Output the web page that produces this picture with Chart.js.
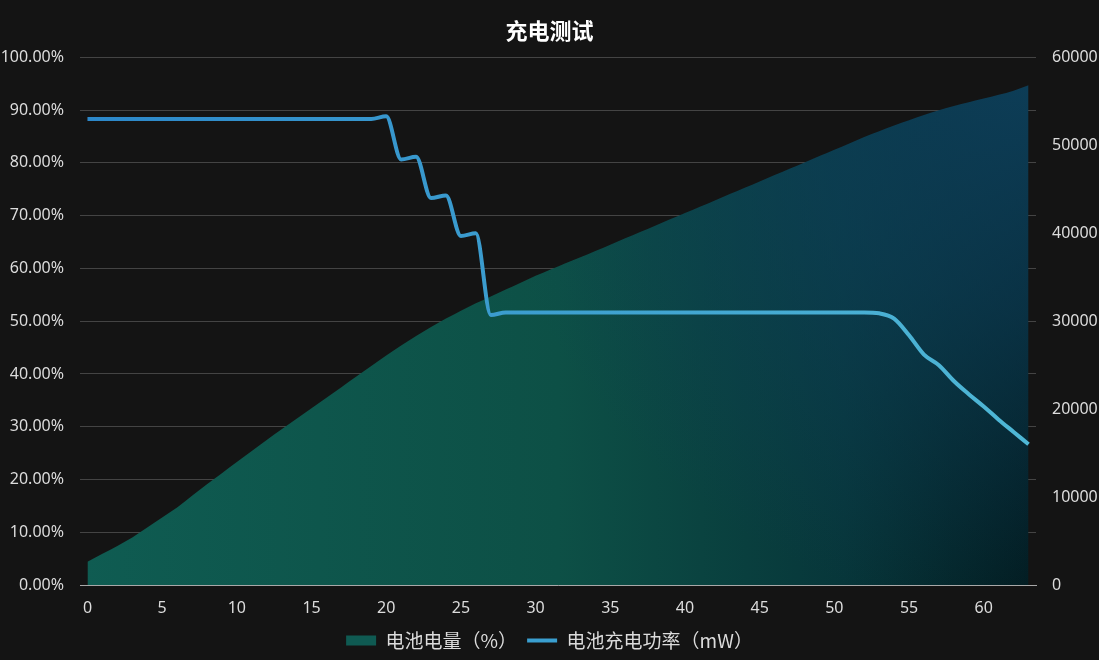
<!DOCTYPE html>
<html lang="zh-CN">
<head>
<meta charset="UTF-8">
<title>充电测试</title>
<script src="https://cdn.jsdelivr.net/npm/chart.js"></script>
<style>
    html, body { margin: 0; padding: 0; background: #141414; }
    #wrap { width: 1099px; height: 660px; }
</style>
</head>
<body>
<div id="wrap"><canvas id="chart"></canvas></div>
<script>
// 数据
const minutes = Array.from({ length: 64 }, (_, i) => String(i));
const batteryPct = [
    4.4, 5.9, 7.4, 9.0, 10.9, 12.8, 14.7, 16.9, 19.1, 21.2,
    23.3, 25.4, 27.5, 29.5, 31.5, 33.5, 35.5, 37.5, 39.5, 41.5,
    43.5, 45.4, 47.2, 48.9, 50.5, 52.0, 53.4, 54.7, 56.0, 57.3,
    58.6, 59.8, 61.0, 62.1, 63.3, 64.5, 65.7, 66.9, 68.1, 69.3,
    70.5, 71.7, 72.9, 74.1, 75.3, 76.5, 77.7, 78.9, 80.1, 81.3,
    82.5, 83.7, 84.9, 86.0, 87.1, 88.1, 89.1, 90.0, 90.8, 91.5,
    92.2, 92.9, 93.7, 94.7
];
const chargePower = [
    53000, 53000, 53000, 53000, 53000, 53000, 53000, 53000, 53000, 53000,
    53000, 53000, 53000, 53000, 53000, 53000, 53000, 53000, 53000, 53000,
    53300, 48400, 48700, 44000, 44300, 39700, 40000, 30700, 31000, 31000,
    31000, 31000, 31000, 31000, 31000, 31000, 31000, 31000, 31000, 31000,
    31000, 31000, 31000, 31000, 31000, 31000, 31000, 31000, 31000, 31000,
    31000, 31000, 31000, 30900, 30300, 28400, 26200, 25000, 23200, 21700,
    20300, 18800, 17400, 16000
];
const pctTicks = [0, 10, 20, 30, 40, 50, 60, 70, 80, 90, 100];

const textColor = '#dcdcdc';
const fontFamily = '"Noto Sans", "Noto Sans CJK SC", sans-serif';

// 面积填充：左侧青绿，右上偏蓝，右下近黑
let areaPattern = null;
function areaFill(context) {
    const chart = context.chart;
    const area = chart.chartArea;
    if (!area) return '#0f5c52';
    if (areaPattern) return areaPattern;
    const off = document.createElement('canvas');
    off.width = chart.width;
    off.height = chart.height;
    const c = off.getContext('2d');
    const g = c.createLinearGradient(area.left, 0, area.right, 0);
    g.addColorStop(0, '#0f5c52');
    g.addColorStop(0.5, '#0d5046');
    g.addColorStop(0.8, '#07363a');
    g.addColorStop(1, '#021a1e');
    c.fillStyle = g;
    c.fillRect(0, 0, off.width, off.height);
    const r = c.createRadialGradient(area.right, area.top, 0, area.right, area.top, 560);
    r.addColorStop(0, 'rgba(14, 64, 92, 0.95)');
    r.addColorStop(0.45, 'rgba(14, 64, 92, 0.6)');
    r.addColorStop(1, 'rgba(14, 64, 92, 0)');
    c.fillStyle = r;
    c.fillRect(0, 0, off.width, off.height);
    areaPattern = chart.ctx.createPattern(off, 'no-repeat');
    return areaPattern;
}

function lineColor(context) {
    const area = context.chart.chartArea;
    if (!area) return '#3a9fd0';
    const g = context.chart.ctx.createLinearGradient(area.left, 0, area.right, 0);
    g.addColorStop(0, '#2c87c9');
    g.addColorStop(1, '#4fb8d6');
    return g;
}

Chart.defaults.font.family = fontFamily;
Chart.defaults.color = textColor;

new Chart(document.getElementById('chart'), {
    type: 'line',
    data: {
        labels: minutes,
        datasets: [
            {
                label: '电池电量（%）',
                data: batteryPct,
                yAxisID: 'yPct',
                fill: 'origin',
                backgroundColor: areaFill,
                borderWidth: 0,
                pointRadius: 0,
                cubicInterpolationMode: 'monotone',
                order: 1
            },
            {
                label: '电池充电功率（mW）',
                data: chargePower,
                yAxisID: 'yPow',
                fill: false,
                borderColor: lineColor,
                backgroundColor: '#3a9fd0',
                borderWidth: 4,
                pointRadius: 0,
                cubicInterpolationMode: 'monotone',
                order: 0
            }
        ]
    },
    options: {
        responsive: true,
        maintainAspectRatio: false,
        animation: false,
        layout: { padding: 0 },
        plugins: {
            title: {
                display: true,
                text: '充电测试',
                color: '#ffffff',
                font: { size: 22, weight: 'bold', family: '"Noto Sans CJK SC", sans-serif' },
                padding: { top: 17, bottom: 14 }
            },
            legend: {
                position: 'bottom',
                labels: {
                    color: textColor,
                    font: { size: 19, family: '"Noto Sans CJK SC", "Noto Sans", sans-serif' },
                    usePointStyle: true,
                    pointStyleWidth: 30,
                    boxHeight: 10,
                    padding: 10,
                    sort: (a, b) => a.datasetIndex - b.datasetIndex,
                    generateLabels(chart) {
                        const items = Chart.defaults.plugins.legend.labels.generateLabels(chart);
                        items.forEach(it => {
                            if (it.datasetIndex === 0) {
                                it.pointStyle = 'rect';
                                it.fillStyle = '#0f5a52';
                                it.strokeStyle = '#0f5a52';
                                it.lineWidth = 0;
                            } else {
                                it.pointStyle = 'line';
                                it.strokeStyle = '#3a9fd0';
                                it.lineWidth = 4;
                            }
                        });
                        return items;
                    }
                }
            },
            tooltip: { enabled: false }
        },
        scales: {
            x: {
                offset: true,
                grid: { display: false, drawTicks: false },
                border: { display: true, color: '#a8a8a8', width: 1 },
                ticks: {
                    autoSkip: false,
                    maxRotation: 0,
                    padding: 14,
                    font: { size: 16 },
                    color: textColor,
                    callback(value) {
                        const lab = this.getLabelForValue(value);
                        return Number(lab) % 5 === 0 ? lab : null;
                    }
                },
                afterFit(scale) { scale.height = 36; }
            },
            yPct: {
                position: 'left',
                min: 0,
                max: 100,
                afterBuildTicks(scale) { scale.ticks = pctTicks.map(v => ({ value: v })); },
                grid: { color: '#444444', drawTicks: false, lineWidth: 1 },
                border: { display: false },
                ticks: {
                    padding: 16,
                    font: { size: 16 },
                    color: textColor,
                    callback: v => v.toFixed(2) + '%'
                },
                afterFit(scale) { scale.width = 80; }
            },
            yPow: {
                position: 'right',
                min: 0,
                max: 60000,
                grid: { display: false, drawTicks: false },
                border: { display: false },
                ticks: {
                    stepSize: 10000,
                    padding: 16,
                    font: { size: 16 },
                    color: textColor,
                    callback: v => String(v)
                },
                afterFit(scale) { scale.width = 63; }
            }
        }
    }
});
</script>
</body>
</html>
